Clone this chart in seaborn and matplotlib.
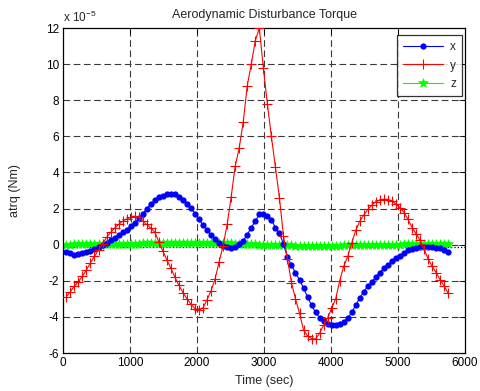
import numpy as np
import pandas as pd
import matplotlib
matplotlib.use("Agg")
import matplotlib.pyplot as plt
import seaborn as sns

# ---- data (values in units of 1e-5 Nm) ----
time_sec = [50, 110, 170, 230, 290, 350, 410, 470, 530, 590, 650, 710, 770, 830, 890, 950,
            1010, 1070, 1130, 1190, 1250, 1310, 1370, 1430, 1490, 1550, 1610, 1670, 1730, 1790,
            1850, 1910, 1970, 2030, 2090, 2150, 2210, 2270, 2330, 2390, 2450, 2510, 2570, 2630,
            2690, 2750, 2810, 2870, 2930, 2990, 3050, 3110, 3170, 3230, 3290, 3350, 3410, 3470,
            3530, 3590, 3650, 3710, 3770, 3830, 3890, 3950, 4010, 4070, 4130, 4190, 4250, 4310,
            4370, 4430, 4490, 4550, 4610, 4670, 4730, 4790, 4850, 4910, 4970, 5030, 5090, 5150,
            5210, 5270, 5330, 5390, 5450, 5510, 5570, 5630, 5690, 5750]

torque_x = [-0.40, -0.48, -0.55, -0.52, -0.45, -0.40, -0.33, -0.22, -0.12, 0.00, 0.12, 0.26,
            0.38, 0.52, 0.68, 0.84, 1.02, 1.22, 1.45, 1.70, 2.00, 2.25, 2.45, 2.62, 2.72, 2.78,
            2.80, 2.78, 2.65, 2.48, 2.28, 2.02, 1.72, 1.40, 1.08, 0.80, 0.52, 0.30, 0.10, -0.05,
            -0.15, -0.18, -0.12, 0.02, 0.22, 0.55, 0.95, 1.30, 1.68, 1.70, 1.58, 1.38, 0.95, 0.62,
            0.05, -0.70, -1.15, -1.55, -1.95, -2.40, -2.90, -3.35, -3.75, -4.05, -4.25, -4.38,
            -4.45, -4.47, -4.42, -4.28, -4.05, -3.75, -3.35, -2.95, -2.60, -2.30, -2.05, -1.80,
            -1.55, -1.30, -1.10, -0.92, -0.76, -0.60, -0.45, -0.32, -0.25, -0.18, -0.15, -0.15,
            -0.15, -0.15, -0.17, -0.20, -0.28, -0.38]

torque_y = [-2.88, -2.60, -2.30, -2.05, -1.75, -1.40, -1.00, -0.65, -0.30, 0.05, 0.40, 0.68,
            0.92, 1.12, 1.30, 1.42, 1.52, 1.58, 1.52, 1.30, 1.12, 0.92, 0.70, 0.15, -0.35, -0.85,
            -1.30, -1.80, -2.25, -2.65, -3.00, -3.30, -3.55, -3.60, -3.50, -3.05, -2.55, -1.90,
            -0.95, -0.05, 1.12, 2.65, 4.35, 5.35, 6.80, 8.80, 10.0, 11.3, 12.0, 9.8, 7.8, 6.0,
            4.3, 2.6, 0.5, -0.80, -2.10, -3.00, -3.80, -4.72, -5.05, -5.20, -5.22, -4.90, -4.45,
            -4.05, -3.52, -3.00, -2.00, -1.20, -0.65, 0.10, 0.80, 1.30, 1.65, 1.95, 2.20, 2.38,
            2.48, 2.52, 2.50, 2.42, 2.25, 2.05, 1.78, 1.40, 0.95, 0.60, 0.25, -0.25, -0.80, -1.20,
            -1.55, -1.95, -2.30, -2.70]

torque_z = [0.00, 0.00, 0.01, 0.01, 0.02, 0.02, 0.02, 0.03, 0.03, 0.03, 0.04, 0.04, 0.04, 0.05,
            0.05, 0.05, 0.06, 0.06, 0.06, 0.07, 0.07, 0.07, 0.08, 0.08, 0.08, 0.09, 0.09, 0.09,
            0.09, 0.10, 0.10, 0.10, 0.10, 0.10, 0.10, 0.10, 0.10, 0.09, 0.09, 0.08, 0.08, 0.07,
            0.06, 0.05, 0.04, 0.03, 0.02, 0.01, 0.00, 0.00, -0.01, -0.02, -0.02, -0.03, -0.03,
            -0.04, -0.04, -0.05, -0.05, -0.05, -0.05, -0.05, -0.05, -0.05, -0.05, -0.05, -0.05,
            -0.05, -0.05, -0.04, -0.04, -0.04, -0.03, -0.03, -0.03, -0.02, -0.02, -0.02, -0.01,
            -0.01, 0.00, 0.00, 0.00, 0.00, 0.01, 0.01, 0.01, 0.01, 0.01, 0.01, 0.01, 0.01, 0.01,
            0.01, 0.01, 0.01]

x_ticks = [0, 1000, 2000, 3000, 4000, 5000, 6000]
y_ticks = [-6, -4, -2, 0, 2, 4, 6, 8, 10, 12]

df = pd.DataFrame({"t": time_sec, "x": torque_x, "y": torque_y, "z": torque_z})

sns.set_style("white")
plt.rcParams["font.family"] = ["Liberation Sans", "DejaVu Sans"]
plt.rcParams["mathtext.fontset"] = "custom"
plt.rcParams["mathtext.rm"] = "Liberation Sans"
plt.rcParams["axes.unicode_minus"] = False

fig = plt.figure(figsize=(4.8, 3.91), dpi=100)
ax = fig.add_axes([63 / 480, 1 - 353 / 391, 402 / 480, 325 / 391])

# grid
for xt in x_ticks[1:-1]:
    ax.axvline(xt, color="#3a3a3a", lw=0.8, dashes=(6.0, 3.2), zorder=0)
for yt in y_ticks[1:-1]:
    ax.axhline(yt, color="#3a3a3a", lw=0.8, dashes=(6.0, 3.2), zorder=0)

# black dotted shadow line near zero
ax.axhline(-0.15, color="k", lw=0.9, ls=":", zorder=1)

sns.lineplot(data=df, x="t", y="x", ax=ax, color="#0000ff", marker="o", markersize=4.5,
             markeredgewidth=0, markeredgecolor="#0000ff", lw=0.8, label="x", zorder=3)
sns.lineplot(data=df, x="t", y="y", ax=ax, color="#ff0000", marker="+", markersize=7,
             markeredgewidth=0.8, markeredgecolor="#ff0000", lw=0.8, label="y", zorder=4)
sns.lineplot(data=df, x="t", y="z", ax=ax, color="#00ff00", marker="*", markersize=7,
             markeredgewidth=0.4, markeredgecolor="#00ff00", lw=0.8, label="z", zorder=2)

ax.set_xlim(0, 6000)
ax.set_ylim(-6, 12)
ax.set_xticks(x_ticks)
ax.set_yticks(y_ticks)
ax.tick_params(direction="in", length=4, width=0.6, labelsize=8.5, top=True, right=True,
               colors="k", pad=3)
for s in ax.spines.values():
    s.set_color("k")
    s.set_linewidth(0.9)

ax.set_xlabel("Time (sec)", fontsize=9, labelpad=4)
ax.set_ylabel("atrq (Nm)", fontsize=9, labelpad=18)
ax.set_title("Aerodynamic Disturbance Torque", fontsize=9, pad=7)
ax.text(0.0, 1.01, r"x 10$^{-5}$", transform=ax.transAxes, fontsize=8.5, ha="left", va="bottom")

leg = ax.legend(loc="upper right", bbox_to_anchor=(0.9925, 0.978), borderaxespad=0,
                fontsize=8.5, frameon=True, fancybox=False, handlelength=3.4,
                handletextpad=0.6, borderpad=0.5, labelspacing=0.55)
leg.get_frame().set_edgecolor("k")
leg.get_frame().set_linewidth(0.9)

fig.savefig("out.png", dpi=100)
